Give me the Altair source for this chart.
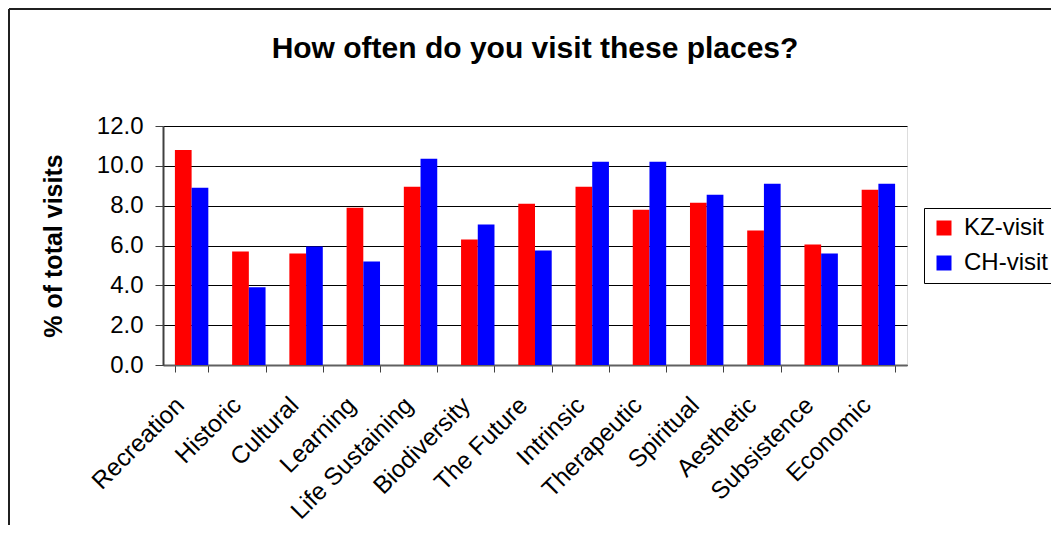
import altair as alt
import pandas as pd

categories = ["Recreation", "Historic", "Cultural", "Learning", "Life Sustaining",
              "Biodiversity", "The Future", "Intrinsic", "Therapeutic", "Spiritual",
              "Aesthetic", "Subsistence", "Economic"]
kz_visit = [10.8, 5.7, 5.6, 7.9, 8.95, 6.3, 8.1, 8.95, 7.8, 8.15, 6.75, 6.05, 8.8]
ch_visit = [8.9, 3.9, 5.95, 5.2, 10.35, 7.05, 5.75, 10.2, 10.2, 8.55, 9.1, 5.6, 9.1]
series = ["KZ-visit", "CH-visit"]
y_ticks = [0, 2, 4, 6, 8, 10, 12]

rows = []
for i, c in enumerate(categories):
    rows.append({"cat": c, "series": series[0], "value": kz_visit[i]})
    rows.append({"cat": c, "series": series[1], "value": ch_visit[i]})
df = pd.DataFrame(rows)

FONT = "Liberation Sans"

bars = alt.Chart(df).mark_bar().encode(
    x=alt.X("cat:N", sort=categories,
            scale=alt.Scale(paddingInner=0.416, paddingOuter=0.208),
            axis=alt.Axis(title=None, labelAngle=-45, labelFontSize=24.5, labelFont=FONT,
                          labelColor="black", tickBand="extent", tickSize=7,
                          tickColor="#404040", domainColor="#606060", domainWidth=2,
                          labelPadding=21, labelOffset=-20)),
    xOffset=alt.XOffset("series:N", sort=series, scale=alt.Scale(paddingInner=0, paddingOuter=0)),
    y=alt.Y("value:Q", scale=alt.Scale(domain=[0, 12]),
            axis=alt.Axis(title="% of total visits", values=y_ticks, format=".1f",
                          labelFontSize=24, labelFont=FONT, labelColor="black",
                          titleFontSize=25, titleFont=FONT, titleFontWeight="bold",
                          titleColor="black", titlePadding=30,
                          tickSize=8, tickColor="#404040", domainColor="#404040",
                          domainWidth=2, gridColor="#000000", gridWidth=1,
                          labelPadding=12)),
    color=alt.Color("series:N", sort=series,
                    scale=alt.Scale(domain=series, range=["#FF0000", "#0000FF"]),
                    legend=alt.Legend(title=None, orient="none", legendX=761, legendY=82,
                                      strokeColor="black", fillColor="white", padding=8,
                                      symbolType="square", symbolSize=225,
                                      symbolStrokeWidth=0, labelFontSize=24,
                                      labelFont=FONT, labelColor="black", rowPadding=11,
                                      labelOffset=8)),
)

frame_df = pd.DataFrame({"k": ["top", "left"]})
top_line = alt.Chart(frame_df.iloc[[0]]).mark_rule(color="#202020", strokeWidth=2).encode(
    x=alt.value(-154), x2=alt.value(1000), y=alt.value(-117))
left_line = alt.Chart(frame_df.iloc[[1]]).mark_rule(color="#202020", strokeWidth=2).encode(
    x=alt.value(-154), y=alt.value(-117), y2=alt.value(600))

chart = alt.layer(bars, top_line, left_line).properties(
    width=744, height=239,
    title=alt.TitleParams("How often do you visit these places?", fontSize=30,
                          font=FONT, fontWeight="bold", color="black", offset=-56,
                          anchor="middle"),
    autosize=alt.AutoSizeParams(type="none"),
    padding={"left": 155, "top": 118, "right": 144, "bottom": 160},
).configure_view(stroke="#808080", strokeWidth=2).configure(background="white")

chart.save("out.html", embed_options={"renderer": "svg", "actions": False})
